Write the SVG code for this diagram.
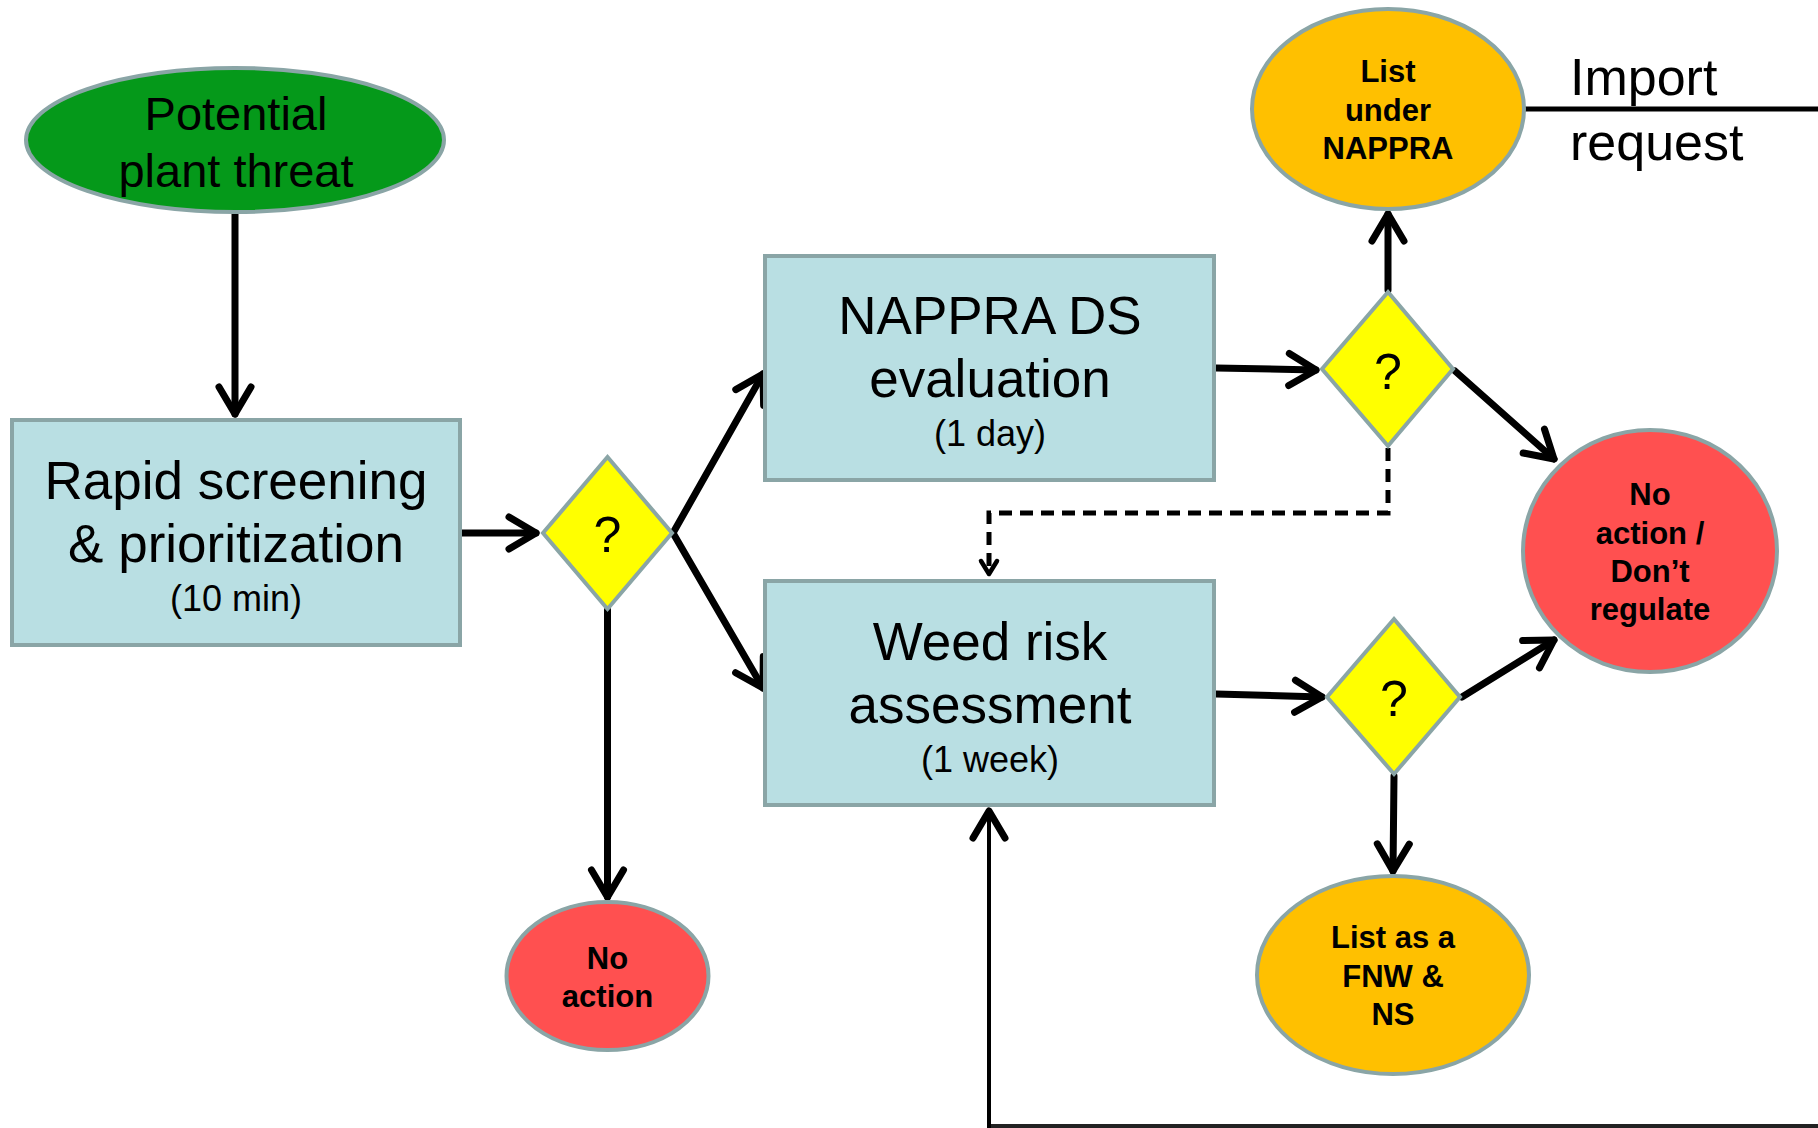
<svg xmlns="http://www.w3.org/2000/svg" width="1818" height="1128" viewBox="0 0 1818 1128">
<defs>
<marker id="arr" markerUnits="userSpaceOnUse" viewBox="-34 -24 40 48" markerWidth="40" markerHeight="48" refX="0" refY="0" orient="auto">
<path d="M-27,-16 L0,0 L-27,16" fill="none" stroke="#000" stroke-width="7" stroke-linecap="round" stroke-linejoin="round"/>
</marker>
<marker id="arrs" markerUnits="userSpaceOnUse" viewBox="-20 -16 24 32" markerWidth="24" markerHeight="32" refX="0" refY="0" orient="auto">
<path d="M-13,-8 L0,0 L-13,8" fill="none" stroke="#000" stroke-width="4.5" stroke-linecap="round" stroke-linejoin="round"/>
</marker>
<style>
.node{stroke:#8aa5a6;stroke-width:4}
.box{fill:#b9dfe3}
.dia{fill:#ffff00}
.red{fill:#ff5050}
.org{fill:#ffc000}
.grn{fill:#05991a}
.t{font-family:"Liberation Sans",Arial,sans-serif;fill:#000;text-anchor:middle}
.big{font-size:53px}
.mid{font-size:47px}
.sm{font-size:36px}
.q{font-size:50px}
.b{font-size:31px;font-weight:bold}
.c{fill:none;stroke:#000;stroke-width:7;stroke-linecap:round}
.d{fill:none;stroke:#000;stroke-width:5;stroke-dasharray:13 8}
</style>
</defs>
<rect width="1818" height="1128" fill="#fff"/>

<g id="connectors">
<line class="c" x1="235" y1="213" x2="235" y2="414" marker-end="url(#arr)"/>
<line class="c" x1="462" y1="533" x2="536" y2="533" marker-end="url(#arr)"/>
<line class="c" x1="673" y1="533" x2="763" y2="374" marker-end="url(#arr)"/>
<line class="c" x1="673" y1="533" x2="763" y2="688" marker-end="url(#arr)"/>
<line class="c" x1="607.5" y1="610" x2="607.5" y2="897" marker-end="url(#arr)"/>
<line class="c" x1="1216" y1="368" x2="1316" y2="370" marker-end="url(#arr)"/>
<line class="c" x1="1388" y1="290" x2="1388" y2="214" marker-end="url(#arr)"/>
<line class="c" x1="1455" y1="371" x2="1554" y2="459" marker-end="url(#arr)"/>
<polyline class="d" points="1388,448 1388,513 989,513 989,574" marker-end="url(#arrs)"/>
<line class="c" x1="1216" y1="694" x2="1322" y2="697" marker-end="url(#arr)"/>
<line class="c" x1="1462" y1="697" x2="1554" y2="640" marker-end="url(#arr)"/>
<line class="c" x1="1394" y1="776" x2="1393" y2="871" marker-end="url(#arr)"/>
<line x1="1525" y1="109" x2="1818" y2="109" stroke="#000" stroke-width="5"/>
<polyline points="1818,1126 989,1126" fill="none" stroke="#222" stroke-width="4"/>
<line x1="989" y1="1128" x2="989" y2="811" stroke="#000" stroke-width="4" marker-end="url(#arr)"/>
</g>

<g id="n_threat">
<ellipse class="node grn" cx="235" cy="140" rx="209" ry="72"/>
<text class="t mid" x="236" y="130">Potential</text>
<text class="t mid" x="236" y="187">plant threat</text>
</g>

<g id="n_rapid">
<rect class="node box" x="12" y="420" width="448" height="225"/>
<text class="t big" x="236" y="499">Rapid screening</text>
<text class="t big" x="236" y="562">&amp; prioritization</text>
<text class="t sm" x="236" y="611">(10 min)</text>
</g>

<g id="n_d1">
<polygon class="node dia" points="607.5,457 672,533 607.5,609 543,533"/>
<text class="t q" x="607.5" y="552">?</text>
</g>

<g id="n_nappra">
<rect class="node box" x="765" y="256" width="449" height="224"/>
<text class="t big" x="990" y="334">NAPPRA DS</text>
<text class="t big" x="990" y="397">evaluation</text>
<text class="t sm" x="990" y="446">(1 day)</text>
</g>

<g id="n_weed">
<rect class="node box" x="765" y="581" width="449" height="224"/>
<text class="t big" x="990" y="660">Weed risk</text>
<text class="t big" x="990" y="723">assessment</text>
<text class="t sm" x="990" y="772">(1 week)</text>
</g>

<g id="n_d2">
<polygon class="node dia" points="1388,292 1453,369 1388,446 1322,369"/>
<text class="t q" x="1388" y="389">?</text>
</g>

<g id="n_d3">
<polygon class="node dia" points="1394,619 1460,697 1394,774 1327,697"/>
<text class="t q" x="1394" y="716">?</text>
</g>

<g id="n_listnappra">
<ellipse class="node org" cx="1388" cy="109" rx="136" ry="100"/>
<text class="t b" x="1388" y="82">List</text>
<text class="t b" x="1388" y="121">under</text>
<text class="t b" x="1388" y="159">NAPPRA</text>
</g>

<g id="n_import">
<text class="t" style="font-size:52px;text-anchor:start" x="1570" y="95">Import</text>
<text class="t" style="font-size:52px;text-anchor:start" x="1570" y="160">request</text>
</g>

<g id="n_noreg">
<ellipse class="node red" cx="1650" cy="551" rx="127" ry="121"/>
<text class="t b" x="1650" y="505">No</text>
<text class="t b" x="1650" y="544">action /</text>
<text class="t b" x="1650" y="582">Don’t</text>
<text class="t b" x="1650" y="620">regulate</text>
</g>

<g id="n_noaction">
<ellipse class="node red" cx="607.5" cy="976" rx="101" ry="74"/>
<text class="t b" x="607.5" y="969">No</text>
<text class="t b" x="607.5" y="1007">action</text>
</g>

<g id="n_fnw">
<ellipse class="node org" cx="1393" cy="975" rx="136" ry="99"/>
<text class="t b" x="1393" y="948">List as a</text>
<text class="t b" x="1393" y="987">FNW &amp;</text>
<text class="t b" x="1393" y="1025">NS</text>
</g>
</svg>
